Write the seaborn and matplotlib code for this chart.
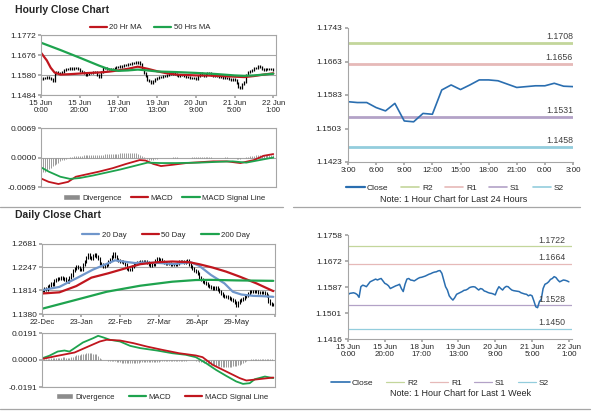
import numpy as np
import seaborn as sns
import matplotlib
matplotlib.use("Agg")
import matplotlib.pyplot as plt
from matplotlib.lines import Line2D
from matplotlib.patches import Patch
import matplotlib.transforms as mtransforms

# ---- hourly close, last week (15 Jun 0:00 -> 22 Jun ~1:00), one value per hour bar
close_week = [
    1.1562, 1.1566, 1.1567, 1.1568, 1.1566, 1.1562, 1.1553, 1.1588, 1.1593, 1.1591,
    1.1588, 1.1596, 1.1604, 1.1607, 1.1610, 1.1613, 1.1610, 1.1613, 1.1615, 1.1607,
    1.1599, 1.1596, 1.1591, 1.1582, 1.1585, 1.1588, 1.1591, 1.1593, 1.1596, 1.1582,
    1.1572, 1.1596, 1.1613, 1.1615, 1.1610, 1.1609, 1.1607, 1.1611, 1.1615, 1.1618,
    1.1619, 1.1621, 1.1623, 1.1626, 1.1629, 1.1631, 1.1634, 1.1636, 1.1637, 1.1640,
    1.1641, 1.1632, 1.1610, 1.1588, 1.1577, 1.1558, 1.1550, 1.1544, 1.1552, 1.1563,
    1.1566, 1.1569, 1.1572, 1.1576, 1.1577, 1.1580, 1.1585, 1.1587, 1.1588, 1.1587,
    1.1582, 1.1577, 1.1582, 1.1580, 1.1574, 1.1572, 1.1569, 1.1567, 1.1566, 1.1564,
    1.1561, 1.1577, 1.1588, 1.1582, 1.1577, 1.1585, 1.1589, 1.1588, 1.1582, 1.1577,
    1.1575, 1.1574, 1.1573, 1.1572, 1.1568, 1.1566, 1.1564, 1.1563, 1.1558, 1.1561,
    1.1558, 1.1541, 1.1522, 1.1519, 1.1539, 1.1547, 1.1582, 1.1596, 1.1599, 1.1604,
    1.1612, 1.1615, 1.1621, 1.1618, 1.1610, 1.1604, 1.1607, 1.1610, 1.1609, 1.1607,
    1.1604]
week_ticks = [0, 20, 40, 60, 80, 100, 120]
week_labels = ["15 Jun\n0:00", "15 Jun\n20:00", "18 Jun\n17:00", "19 Jun\n13:00",
               "20 Jun\n9:00", "21 Jun\n5:00", "22 Jun\n1:00"]

ma20h_x = [0, 3, 5, 7, 10, 15, 20, 25, 30, 35, 40, 45, 50, 55, 60, 65, 70, 75, 80, 85, 90, 95, 100, 105, 110, 115, 120]
ma20h_y = [1.1687, 1.1650, 1.1615, 1.1592, 1.1582, 1.1584, 1.1587, 1.1590, 1.1592, 1.1596, 1.1602, 1.1610, 1.1620,
           1.1610, 1.1598, 1.1588, 1.1582, 1.1580, 1.1578, 1.1578, 1.1576, 1.1574, 1.1572, 1.1570, 1.1575, 1.1582, 1.1588]
ma50h_x = [0, 10, 20, 30, 35, 40, 45, 50, 55, 60, 70, 80, 90, 100, 105, 110, 115, 120]
ma50h_y = [1.1735, 1.1700, 1.1663, 1.1625, 1.1608, 1.1600, 1.1602, 1.1606, 1.1602, 1.1597, 1.1594, 1.1590,
           1.1585, 1.1578, 1.1576, 1.1578, 1.1582, 1.1586]

macd_h_x = [0, 4, 9, 14, 18, 24, 30, 37, 44, 51, 54, 58, 62, 68, 75, 82, 89, 96, 103, 110, 115, 120]
macd_h_y = [-0.0049, -0.0057, -0.0062, -0.0057, -0.0045, -0.0039, -0.0033, -0.0025, -0.0015, -0.0006, -0.0007,
            -0.0015, -0.0020, -0.0017, -0.0013, -0.0011, -0.0009, -0.0009, -0.0013, -0.0006, 0.0004, 0.0008]
sig_h_x = [0, 4, 10, 15, 20, 27, 34, 41, 48, 55, 62, 70, 82, 92, 99, 106, 113, 120]
sig_h_y = [-0.0023, -0.0033, -0.0045, -0.0050, -0.0048, -0.0042, -0.0035, -0.0028, -0.0020, -0.0012, -0.0013,
           -0.0013, -0.0012, -0.0010, -0.0009, -0.0012, -0.0006, 0.0000]
# divergence, in units of 1e-4
div_h = [
    -37, -35, -33, -30, -27, -24, -21, -18, -15, -12,
    -9, -7, -5, -3, -1, 1, 2, 3, 3, 4,
    4, 4, 5, 5, 5, 6, 6, 6, 6, 7,
    7, 7, 7, 8, 8, 8, 8, 9, 9, 9,
    9, 10, 10, 10, 10, 10, 11, 11, 11, 10,
    9, 7, 4, 1, -2, -4, -5, -5, -5, -4,
    -3, -2, -2, -1, -1, -1, 0, 0, 1, 1,
    1, 0, 0, 0, -1, -1, 0, 0, 1, 1,
    1, 1, 1, 2, 2, 1, 1, 1, 1, 0,
    0, 0, 0, 0, 0, 1, 1, 0, 0, -1,
    -2, -3, -3, -3, -2, -1, 1, 2, 3, 4,
    4, 5, 5, 5, 5, 5, 5, 5, 5, 5, 5]

# ---- last 24 hours
close_day = [1.1567, 1.1565, 1.1565, 1.1553, 1.1545, 1.1563, 1.1521, 1.1519, 1.1539, 1.1537,
             1.1595, 1.1607, 1.1596, 1.1607, 1.1619, 1.1619, 1.1617, 1.1609, 1.1601, 1.1603,
             1.1605, 1.1605, 1.1611, 1.1604, 1.1603]
day_labels = ["3:00", "6:00", "9:00", "12:00", "15:00", "18:00", "21:00", "0:00", "3:00"]
level_names = ["R2", "R1", "S1", "S2"]
level_colors = ["#C3D69B", "#E6B9B8", "#B3A2C7", "#93CDDD"]
levels_24h = [1.1708, 1.1656, 1.1531, 1.1458]
levels_week = [1.1722, 1.1664, 1.1528, 1.1450]

# ---- daily closes, 22-Dec -> 22-Jun
close_daily = [
    1.1821, 1.1852, 1.1840, 1.1883, 1.1900, 1.1945, 1.1930, 1.2007, 1.2020, 1.2038,
    1.2030, 1.2051, 1.2040, 1.2026, 1.2000, 1.1976, 1.2060, 1.2100, 1.2180, 1.2224,
    1.2256, 1.2240, 1.2200, 1.2193, 1.2300, 1.2349, 1.2420, 1.2473, 1.2430, 1.2411,
    1.2460, 1.2473, 1.2442, 1.2400, 1.2318, 1.2290, 1.2256, 1.2270, 1.2299, 1.2340,
    1.2380, 1.2440, 1.2504, 1.2450, 1.2380, 1.2360, 1.2349, 1.2340, 1.2336, 1.2300,
    1.2224, 1.2210, 1.2193, 1.2250, 1.2299, 1.2318, 1.2330, 1.2336, 1.2340, 1.2345,
    1.2349, 1.2340, 1.2336, 1.2300, 1.2274, 1.2290, 1.2299, 1.2360, 1.2398, 1.2390,
    1.2380, 1.2350, 1.2336, 1.2320, 1.2318, 1.2305, 1.2299, 1.2290, 1.2287, 1.2300,
    1.2318, 1.2340, 1.2349, 1.2340, 1.2336, 1.2350, 1.2361, 1.2300, 1.2250, 1.2224,
    1.2190, 1.2162, 1.2130, 1.2050, 1.2010, 1.1976, 1.1960, 1.1945, 1.1910, 1.1883,
    1.1870, 1.1852, 1.1860, 1.1864, 1.1830, 1.1790, 1.1760, 1.1728, 1.1710, 1.1697,
    1.1680, 1.1666, 1.1650, 1.1635, 1.1590, 1.1541, 1.1600, 1.1635, 1.1650, 1.1666,
    1.1700, 1.1728, 1.1760, 1.1790, 1.1802, 1.1795, 1.1802, 1.1790, 1.1777, 1.1771,
    1.1780, 1.1771, 1.1750, 1.1728, 1.1620, 1.1572, 1.1560, 1.1554]
daily_ticks = [0, 23, 46, 69, 92, 115, 138]
daily_labels = ["22-Dec", "23-Jan", "22-Feb", "27-Mar", "26-Apr", "29-May", ""]

ma20d_x = [0, 10, 20, 30, 40, 43, 50, 55, 60, 70, 78, 88, 93, 100, 108, 113, 118, 125, 130, 137]
ma20d_y = [1.1821, 1.1880, 1.2038, 1.2200, 1.2330, 1.2370, 1.2340, 1.2320, 1.2330, 1.2320, 1.2300, 1.2336,
           1.2270, 1.2100, 1.1945, 1.1790, 1.1740, 1.1715, 1.1710, 1.1697]
ma50d_x = [0, 10, 20, 29, 39, 48, 58, 68, 77, 87, 93, 101, 109, 117, 127, 137]
ma50d_y = [1.1759, 1.1780, 1.1895, 1.2051, 1.2131, 1.2212, 1.2299, 1.2336, 1.2349, 1.2336, 1.2299, 1.2237,
           1.2162, 1.2070, 1.1945, 1.1802]
ma200d_x = [0, 19, 38, 58, 77, 91, 100, 115, 137]
ma200d_y = [1.1479, 1.1634, 1.1790, 1.1902, 1.1976, 1.2007, 1.2010, 1.2000, 1.1992]

macd_d_x = [0, 4, 9, 13, 16, 19, 24, 30, 33, 36, 40, 46, 52, 58, 68, 77, 85, 91, 97, 103, 109, 115, 119, 123,
            126, 132, 137]
macd_d_y = [0.0013, 0.0030, 0.0060, 0.0067, 0.0060, 0.0084, 0.0124, 0.0154, 0.0171, 0.0160, 0.0143, 0.0131,
            0.0100, 0.0084, 0.0067, 0.0048, 0.0037, 0.0020, -0.0022, -0.0070, -0.0112, -0.0152, -0.0169,
            -0.0164, -0.0136, -0.0117, -0.0128]
sig_d_x = [0, 9, 19, 28, 34, 38, 46, 54, 62, 71, 81, 91, 95, 101, 109, 117, 121, 128, 137]
sig_d_y = [0.0008, 0.0030, 0.0053, 0.0100, 0.0131, 0.0143, 0.0138, 0.0119, 0.0095, 0.0072, 0.0048, 0.0032,
           0.0020, -0.0034, -0.0081, -0.0128, -0.0145, -0.0136, -0.0124]
# divergence, in units of 1e-4
div_d = [
    3, 5, 6, 8, 10, 12, 12, 14, 15, 16,
    16, 17, 18, 18, 17, 15, 16, 20, 24, 28,
    32, 35, 38, 40, 42, 44, 46, 47, 47, 46,
    45, 44, 40, 30, 15, 5, 0, -2, -3, -4,
    -5, -6, -8, -10, -12, -14, -16, -18, -20, -21,
    -22, -22, -22, -21, -20, -19, -18, -18, -17, -16,
    -15, -15, -14, -14, -14, -13, -12, -12, -11, -11,
    -10, -10, -9, -9, -8, -8, -7, -7, -6, -6,
    -6, -5, -5, -5, -4, -4, -3, -3, -2, -2,
    -3, -5, -8, -11, -14, -17, -20, -23, -26, -29,
    -32, -35, -38, -40, -42, -44, -46, -47, -48, -48,
    -48, -47, -46, -45, -43, -41, -38, -34, -28, -22,
    -15, -8, -2, 2, 5, 7, 8, 9, 9, 9,
    9, 8, 8, 7, 6, 5, 4, 3]

RED = "#C0161E"
GREEN = "#1EA34E"
BLUE = "#6F96CB"
CLOSE_BLUE = "#2A6EB0"
GRID = "#A6A6A6"
DIV = "#8C8C8C"

sns.set_theme(style="white")
plt.rcParams['font.family'] = ['Liberation Sans', 'DejaVu Sans']

W, H = 600, 413
fig = plt.figure(figsize=(6, 4.13), dpi=100)


def px_axes(left, top, right, bottom):
    return fig.add_axes([left / W, 1 - bottom / H, (right - left) / W, (bottom - top) / H])


def boxed(ax, yticks, ylabels):
    ax.set_ylim(yticks[0], yticks[-1])
    ax.set_yticks(yticks)
    ax.set_yticklabels(ylabels)
    for s in ax.spines.values():
        s.set_visible(True)
        s.set_color(GRID)
        s.set_linewidth(0.8)
    ax.yaxis.grid(True, color=GRID, lw=0.8)
    ax.set_axisbelow(True)
    ax.tick_params(axis="y", labelsize=6, length=2, pad=1.2, color=GRID, left=True)
    ax.tick_params(axis="x", labelsize=5.6, length=2, pad=1.5, color=GRID, bottom=True)


def open_axes(ax, yticks, ylabels):
    ax.set_ylim(yticks[0], yticks[-1])
    ax.set_yticks(yticks)
    ax.set_yticklabels(ylabels)
    ax.spines["top"].set_visible(False)
    ax.spines["right"].set_visible(False)
    for s in ["left", "bottom"]:
        ax.spines[s].set_color(GRID)
        ax.spines[s].set_linewidth(0.8)
    ax.grid(False)
    ax.tick_params(axis="y", labelsize=6, length=2.5, pad=2, color=GRID, left=True)
    ax.tick_params(axis="x", labelsize=5.8, length=2, pad=1.5, color=GRID, bottom=True)


def candles(ax, closes, wick, lw):
    c = np.array(closes)
    o = np.r_[c[0], c[:-1]]
    x = np.arange(len(c))
    ax.vlines(x, np.minimum(o, c) - wick, np.maximum(o, c) + wick, color="black", lw=lw)


def legend_at(handles, labels, cx, cy, ncol, hl=2.2, fs=5.6, cs=1.2):
    fig.legend(handles, labels, loc="center", bbox_to_anchor=(cx / W, 1 - cy / H), ncol=ncol,
               frameon=False, fontsize=fs, handlelength=hl, handletextpad=0.3, columnspacing=cs,
               borderaxespad=0, borderpad=0)


def sep(x0, x1, y):
    fig.add_artist(Line2D([x0 / W, x1 / W], [1 - y / H, 1 - y / H], transform=fig.transFigure,
                          color=GRID, lw=0.9))


# ================= Hourly close chart =================
fig.text(15 / W, 1 - 10 / H, "Hourly Close Chart", fontsize=7.5, fontweight="bold", va="center")

ax1 = px_axes(41, 35, 276, 95)
candles(ax1, close_week, 0.0005, 0.9)
sns.lineplot(x=ma20h_x, y=ma20h_y, ax=ax1, color=RED, lw=1.6)
sns.lineplot(x=ma50h_x, y=ma50h_y, ax=ax1, color=GREEN, lw=1.6)
boxed(ax1, [1.1484, 1.1580, 1.1676, 1.1772], ["1.1484", "1.1580", "1.1676", "1.1772"])
ax1.set_xlim(0, 121.4)
ax1.set_xticks(week_ticks)
ax1.set_xticklabels(week_labels, linespacing=1.1)
legend_at([Line2D([], [], color=RED, lw=1.6), Line2D([], [], color=GREEN, lw=1.6)],
          ["20 Hr MA", "50 Hrs MA"], 150, 27.5, 2, cs=1.6)

ax2 = px_axes(41, 128, 276, 187)
ax2.vlines(np.arange(len(div_h)), 0, np.array(div_h) * 1e-4, color=DIV, lw=0.6)
sns.lineplot(x=macd_h_x, y=macd_h_y, ax=ax2, color=RED, lw=1.3)
sns.lineplot(x=sig_h_x, y=sig_h_y, ax=ax2, color=GREEN, lw=1.3)
boxed(ax2, [-0.0069, 0.0, 0.0069], ["-0.0069", "0.0000", "0.0069"])
ax2.set_xlim(0, 121.4)
ax2.set_xticks([])
legend_at([Patch(facecolor=DIV), Line2D([], [], color=RED, lw=1.6), Line2D([], [], color=GREEN, lw=1.6)],
          ["Divergence", "MACD", "MACD Signal Line"], 164, 198, 3)

# 24h panel
ax3 = px_axes(348, 28, 573, 162)
for name, lev, col in zip(level_names, levels_24h, level_colors):
    ax3.axhline(lev, color=col, lw=2)
    ax3.text(1.0, lev + 0.0005, f"{lev:.4f}", transform=mtransforms.blended_transform_factory(ax3.transAxes, ax3.transData),
             ha="right", va="bottom", fontsize=6.3, color="#404040")
sns.lineplot(x=np.arange(len(close_day)), y=close_day, ax=ax3, color=CLOSE_BLUE, lw=1.2)
open_axes(ax3, [1.1423, 1.1503, 1.1583, 1.1663, 1.1743], ["1.1423", "1.1503", "1.1583", "1.1663", "1.1743"])
ax3.set_xlim(0, 24)
ax3.set_xticks(np.arange(0, 25, 3))
ax3.set_xticklabels(day_labels)
lev_handles = [Line2D([], [], color=CLOSE_BLUE, lw=1.6)] + [Line2D([], [], color=c, lw=1.2) for c in level_colors]
legend_at(lev_handles, ["Close"] + level_names, 455, 188, 5, hl=2.2, fs=6, cs=1.5)
fig.text(454 / W, 1 - 199.5 / H, "Note: 1 Hour Chart for Last 24 Hours", fontsize=6.5, ha="center", va="center")

sep(0, 283, 206.5)
sep(293, 580, 206.5)

# ================= Daily close chart =================
fig.text(15 / W, 1 - 215 / H, "Daily Close Chart", fontsize=7.5, fontweight="bold", va="center")

ax4 = px_axes(41.7, 243.5, 275, 314)
candles(ax4, close_daily, 0.0028, 0.8)
sns.lineplot(x=ma20d_x, y=ma20d_y, ax=ax4, color=BLUE, lw=1.6)
sns.lineplot(x=ma50d_x, y=ma50d_y, ax=ax4, color=RED, lw=1.6)
sns.lineplot(x=ma200d_x, y=ma200d_y, ax=ax4, color=GREEN, lw=1.6)
boxed(ax4, [1.1380, 1.1814, 1.2247, 1.2681], ["1.1380", "1.1814", "1.2247", "1.2681"])
ax4.set_xlim(-0.5, 138)
ax4.set_xticks(daily_ticks)
ax4.set_xticklabels(daily_labels)
legend_at([Line2D([], [], color=c, lw=1.6) for c in (BLUE, RED, GREEN)],
          ["20 Day", "50 Day", "200 Day"], 166, 235, 3, cs=2.0)

ax5 = px_axes(41.7, 333, 275, 387)
ax5.vlines(np.arange(len(div_d)), 0, np.array(div_d) * 1e-4, color=DIV, lw=0.6)
sns.lineplot(x=macd_d_x, y=macd_d_y, ax=ax5, color=GREEN, lw=1.3)
sns.lineplot(x=sig_d_x, y=sig_d_y, ax=ax5, color=RED, lw=1.3)
boxed(ax5, [-0.0191, 0.0, 0.0191], ["-0.0191", "0.0000", "0.0191"])
ax5.set_xlim(-0.5, 138)
ax5.set_xticks([])
legend_at([Patch(facecolor=DIV), Line2D([], [], color=GREEN, lw=1.6), Line2D([], [], color=RED, lw=1.6)],
          ["Divergence", "MACD", "MACD Signal Line"], 162, 397, 3, cs=1.8)

# week panel
ax6 = px_axes(348, 235, 572, 339)
for name, lev, col in zip(level_names, levels_week, level_colors):
    ax6.axhline(lev, color=col, lw=0.9)
    ax6.text(0.97, lev + 0.0004, f"{lev:.4f}", transform=mtransforms.blended_transform_factory(ax6.transAxes, ax6.transData),
             ha="right", va="bottom", fontsize=6.3, color="#404040")
sns.lineplot(x=np.arange(len(close_week)), y=close_week, ax=ax6, color=CLOSE_BLUE, lw=1.1)
open_axes(ax6, [1.1416, 1.1501, 1.1587, 1.1672, 1.1758], ["1.1416", "1.1501", "1.1587", "1.1672", "1.1758"])
ax6.set_xlim(0, 121.7)
ax6.set_xticks(week_ticks)
ax6.set_xticklabels(week_labels, linespacing=1.1)
legend_at([Line2D([], [], color=CLOSE_BLUE, lw=1.2)] + [Line2D([], [], color=c, lw=0.9) for c in level_colors],
          ["Close"] + level_names, 440, 383, 5, hl=2.2, fs=6, cs=1.5)
fig.text(461 / W, 1 - 393.5 / H, "Note: 1 Hour Chart for Last 1 Week", fontsize=6.5, ha="center", va="center")

sep(0, 590, 409)

fig.savefig("out.png", dpi=100, facecolor="white")
